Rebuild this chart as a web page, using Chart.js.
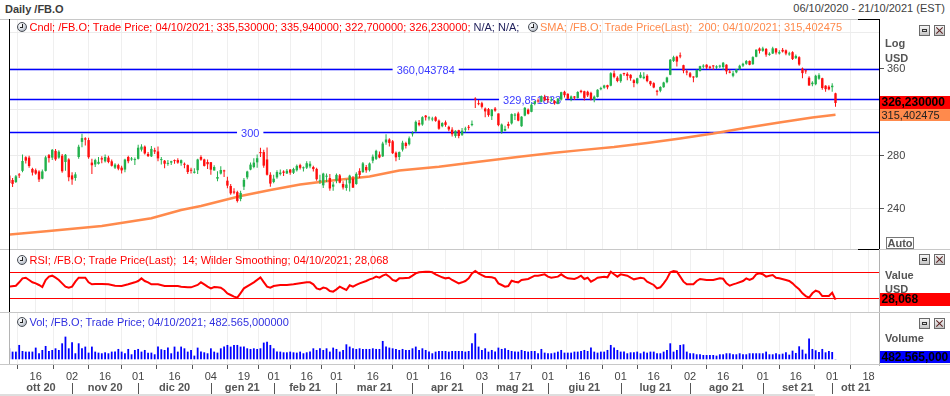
<!DOCTYPE html>
<html>
<head>
<meta charset="utf-8">
<title>Daily /FB.O</title>
<script src="https://cdn.jsdelivr.net/npm/chart.js@4.4.1/dist/chart.umd.min.js"></script>
<style>
  html, body { margin:0; padding:0; background:#fff; }
  body { width:950px; height:396px; position:relative; overflow:hidden;
         font-family:"Liberation Sans", Arial, sans-serif; font-size:11px; color:#444; }
  canvas { position:absolute; left:0; }
  .t { position:absolute; white-space:pre; line-height:13px; }
  .b { font-weight:bold; }
  .ico { position:absolute; width:8px; height:8px; border-radius:50%; border:1px solid #4a4f57;
         background:radial-gradient(circle at 35% 30%, #ffffff 0%, #d6dbe2 50%, #8d95a0 100%); }
  .ico:before { content:''; position:absolute; left:4px; top:1px; width:1px; height:4px; background:#222; }
  .ico:after { content:''; position:absolute; left:2px; top:4px; width:3px; height:1px; background:#222; }
  .btn { position:absolute; width:9px; height:9px; border:1px solid #6a6a6a; background:linear-gradient(#f6f6f6,#c4c4c4); }
  .btn.min:after { content:''; position:absolute; left:2px; top:3px; width:3px; height:1px; border:1px solid #333; }
  .btn.cls:before, .btn.cls:after { content:''; position:absolute; left:4px; top:0; width:1px; height:9px; background:#5a2020; transform:rotate(45deg); }
  .btn.cls:after { transform:rotate(-45deg); }
  .auto { position:absolute; left:886px; top:237px; width:26px; height:10px; border:1px solid #777;
          font-weight:bold; line-height:10px; text-align:center; color:#555; }
</style>
</head>
<body>
<canvas id="cMain" width="950" height="231" style="top:19px"></canvas>
<canvas id="cRsi" width="950" height="63" style="top:250px"></canvas>
<canvas id="cVol" width="950" height="83" style="top:313px"></canvas>
<script>
// ---------------- DATA ----------------
const SYMBOL = '/FB.O';
const LAST_DATE = '04/10/2021';
const DATE_RANGE = '06/10/2020 - 21/10/2021 (EST)';

// trading-day index 0 = 06/10/2020 ... 250 = 04/10/2021
const OPEN = [
264.4,261.0,259.5,264.8,268.0,278.8,278.5,269.5,268.5,267.5,
262.0,268.0,280.5,278.5,284.0,278.5,280.0,275.0,277.0,264.5,
262.5,279.0,291.5,294.5,293.0,274.5,273.0,273.5,278.0,275.5,
278.5,275.5,270.5,272.5,270.5,269.0,279.0,277.0,276.5,277.5,
285.0,287.5,281.5,279.5,284.5,283.5,276.5,276.0,273.5,274.5,
276.0,276.5,274.0,273.0,272.5,268.5,266.5,268.5,279.0,277.0,
275.0,274.8,268.3,262.0,265.9,268.3,260.5,256.5,252.5,252.0,
247.0,256.0,263.0,269.0,271.0,274.7,283.0,283.0,277.0,265.0,
259.5,263.0,265.5,267.5,266.0,269.0,266.5,268.5,272.5,270.0,
270.5,271.5,271.0,269.5,260.0,257.0,263.5,262.5,256.0,260.5,
264.5,258.0,255.0,258.5,262.0,258.0,268.0,267.0,271.0,268.5,
276.0,277.5,281.0,279.5,291.0,293.5,292.0,282.5,279.0,285.0,
290.5,289.5,298.0,300.5,308.0,306.5,314.5,312.0,311.0,313.0,
310.0,305.0,308.5,304.5,302.0,296.5,301.5,297.5,302.0,304.5,
306.0,330.0,326.0,326.0,321.0,320.5,314.0,321.0,316.5,300.0,
301.0,307.0,307.5,314.5,316.5,305.0,314.5,320.0,318.0,325.5,
328.0,327.5,332.0,330.0,328.5,328.0,325.5,329.5,337.0,335.0,
330.0,332.5,331.0,338.0,337.5,337.0,336.0,329.0,332.0,339.5,
341.0,343.5,343.0,355.5,351.0,347.5,355.5,355.0,354.0,348.5,
345.5,351.0,350.5,353.0,347.5,345.5,338.0,338.0,341.5,346.5,
354.0,368.5,373.0,374.5,364.0,357.5,355.5,352.0,351.5,358.0,
362.5,364.5,362.5,363.5,361.5,362.5,362.0,364.5,357.0,353.0,
356.5,360.0,363.5,365.5,368.5,365.0,373.0,382.0,379.5,381.5,
375.0,376.5,382.0,376.5,380.5,380.0,375.5,378.0,371.5,372.5,
360.5,358.5,351.0,344.5,344.5,350.0,350.5,343.0,342.0,341.5,
335.53];
const HIGH = [
266.0,262.5,264.8,266.3,281.0,279.5,280.0,270.5,269.8,268.5,
269.0,280.0,281.5,285.5,285.5,284.5,281.5,281.5,278.0,267.0,
267.0,289.0,298.5,295.5,295.0,277.5,277.5,279.0,279.5,281.0,
280.0,277.0,274.0,273.5,272.0,277.5,280.0,279.0,278.5,289.0,
289.5,288.5,283.0,288.0,286.5,287.5,279.0,276.5,276.5,276.0,
277.0,278.0,277.0,274.5,273.0,270.5,270.0,277.5,280.5,277.5,
277.0,275.0,272.4,267.8,271.6,268.8,263.5,258.0,254.8,253.0,
253.0,262.5,268.0,274.5,278.0,281.0,286.5,285.0,286.8,267.0,
265.0,268.5,269.0,268.5,269.5,269.5,270.5,273.0,273.5,271.5,
275.5,275.5,272.0,270.5,265.0,266.5,266.0,265.5,259.5,266.0,
265.5,260.0,261.5,265.0,264.0,267.0,270.0,275.0,272.5,274.5,
281.0,285.0,283.5,291.5,298.0,294.5,293.0,283.5,283.5,292.5,
291.5,296.0,300.5,310.0,310.5,314.0,315.0,314.0,313.5,314.0,
311.0,308.5,310.0,305.5,304.0,301.5,302.0,303.5,304.5,306.0,
310.0,331.8,329.0,327.5,322.0,321.5,320.5,322.5,316.5,307.5,
305.5,309.0,316.5,317.0,318.0,314.0,322.5,321.0,326.0,328.0,
330.5,333.5,334.0,333.0,332.0,329.0,331.0,337.0,338.0,335.5,
333.5,333.0,337.5,339.0,338.0,338.0,337.0,333.5,339.5,342.0,
344.0,344.0,356.5,358.5,352.5,355.0,356.0,356.5,354.5,349.5,
351.0,356.5,356.5,354.5,348.0,346.5,339.0,342.5,347.0,352.0,
370.5,374.0,374.0,377.5,364.5,359.5,357.0,352.5,359.5,363.5,
365.0,365.0,363.5,364.0,364.0,364.5,367.5,365.0,359.5,358.0,
360.0,364.5,366.5,369.5,369.0,373.5,381.0,383.0,384.0,382.5,
378.0,384.0,382.5,380.0,382.5,381.0,378.5,379.0,375.5,373.5,
361.5,359.5,352.5,347.5,354.0,355.5,351.0,343.5,343.5,345.5,
335.94];
const LOW = [
258.3,255.8,258.7,262.5,267.0,273.8,270.5,264.5,265.0,259.5,
261.5,267.5,274.5,276.5,276.0,277.5,266.5,268.0,260.0,257.5,
260.5,277.5,287.0,288.5,277.5,265.5,271.0,273.0,274.0,274.5,
274.0,271.5,269.5,268.5,266.0,267.0,274.0,276.0,272.5,277.0,
283.5,281.0,279.0,279.0,281.5,275.5,273.0,270.0,272.0,272.5,
273.5,273.5,272.0,270.0,265.5,266.0,266.0,265.5,276.0,271.5,
269.5,265.0,268.2,260.0,265.2,263.2,254.8,250.0,250.5,244.5,
245.5,253.5,261.5,268.5,270.0,270.5,279.0,270.5,264.5,256.0,
258.5,262.0,264.5,264.0,265.5,265.0,265.5,267.5,269.0,267.5,
269.5,270.0,267.5,260.5,258.0,255.0,259.5,253.0,253.0,258.5,
258.5,254.0,253.0,252.5,255.0,257.5,262.5,266.5,266.5,267.5,
274.0,276.5,278.0,279.0,289.0,287.5,281.5,275.5,276.5,283.5,
286.0,288.5,296.0,299.5,305.0,305.5,310.0,310.0,309.5,309.0,
302.0,304.0,304.5,300.5,296.0,295.0,294.5,296.5,299.5,301.5,
305.0,321.5,324.0,321.0,313.0,313.5,310.5,318.0,305.0,298.5,
300.5,303.0,306.5,310.5,309.5,304.5,314.0,315.5,317.5,324.0,
326.5,327.0,328.0,326.5,327.5,324.5,325.0,328.5,331.5,329.5,
328.0,329.0,330.5,335.5,328.5,332.0,328.5,327.0,331.5,338.5,
340.0,339.5,342.5,350.5,346.5,346.0,353.0,348.5,348.0,341.5,
344.5,350.5,349.5,346.5,343.0,340.5,333.5,336.5,341.0,345.5,
353.5,367.5,362.5,371.5,355.5,353.5,351.0,346.5,351.0,357.5,
360.5,360.0,359.5,359.0,360.0,361.0,359.0,354.5,355.5,351.5,
355.5,359.0,362.0,364.5,364.0,364.5,372.5,376.5,378.5,373.0,
374.0,376.0,375.5,375.5,377.5,374.5,374.0,369.5,370.5,363.5,
350.5,355.0,343.0,342.5,343.5,349.0,339.0,337.0,338.5,337.0,
322.70];
const CLOSE = [
258.7,258.1,263.8,264.5,275.8,276.1,271.8,266.7,265.9,261.4,
267.6,278.7,278.1,284.8,277.1,283.3,267.7,280.8,263.1,261.4,
265.3,287.4,294.7,293.4,278.8,272.4,276.5,275.1,277.0,279.0,
275.0,272.0,272.9,269.7,268.4,276.9,275.6,277.8,277.0,286.6,
287.5,281.9,279.7,285.6,283.4,277.9,277.1,273.6,274.2,275.6,
275.7,274.5,276.4,272.8,267.1,268.1,267.4,277.0,276.8,271.9,
273.2,268.9,271.0,263.3,268.7,267.6,256.8,251.1,251.6,245.6,
251.4,261.1,267.5,272.9,274.5,278.0,282.1,272.1,265.0,258.3,
262.0,267.1,266.7,266.5,268.1,266.6,269.5,271.9,270.4,270.5,
274.0,273.6,269.4,261.6,260.3,265.9,264.3,254.7,257.6,264.9,
259.0,255.4,257.6,264.3,255.3,265.7,264.9,273.9,268.4,273.8,
279.3,284.0,278.6,290.1,293.5,290.6,282.1,278.7,283.0,290.8,
288.0,294.5,298.7,308.9,306.3,313.1,313.0,312.5,311.5,309.8,
302.8,307.8,306.2,302.2,298.0,301.0,296.5,301.1,303.0,303.6,
307.1,329.5,325.1,322.6,318.4,315.0,320.0,319.1,306.0,306.5,
302.6,305.3,315.9,315.5,310.0,313.6,321.7,316.2,324.6,327.8,
327.7,332.8,328.7,329.1,329.2,326.0,330.4,336.6,333.7,330.3,
332.5,331.3,336.8,336.8,331.1,333.5,329.7,332.3,339.0,340.6,
343.2,341.4,355.6,351.9,347.7,354.4,354.7,352.8,350.5,345.7,
350.4,354.0,352.1,347.6,344.5,341.2,337.0,341.7,346.2,351.2,
369.8,372.5,367.8,373.3,358.3,356.3,352.0,351.2,358.9,363.0,
363.5,361.6,361.2,362.7,362.8,363.2,366.6,357.5,356.2,355.5,
359.4,363.4,365.5,368.4,364.4,372.6,380.7,379.4,382.1,375.3,
376.3,382.2,377.6,378.0,378.7,376.5,376.5,370.5,373.9,364.7,
355.7,357.5,343.2,346.0,353.0,353.6,340.7,339.6,339.4,343.0,
326.23];
// volume, millions of shares
const VOLUME = [
23.9,16.7,16.7,31.2,18.1,16.7,16.7,16.7,25.4,13.1,
20.3,29.0,18.1,20.3,23.9,20.3,34.8,49.3,23.9,37.0,
13.1,34.8,23.9,27.6,14.5,27.6,16.7,14.5,13.1,15.2,
13.1,16.7,16.7,22.5,16.7,13.1,22.5,10.9,20.3,22.5,
16.7,20.3,14.5,14.5,10.9,27.6,21.8,20.3,25.4,13.1,
27.6,16.7,27.6,23.9,16.7,20.3,8.0,25.4,16.7,15.2,
13.1,23.9,16.7,14.5,23.9,27.6,31.2,27.6,31.2,31.2,
27.6,27.6,23.9,22.5,23.9,22.5,23.9,36.3,38.4,31.2,
23.9,16.7,16.7,15.2,15.2,16.7,15.2,14.5,16.7,13.1,
15.2,16.7,23.9,20.3,23.9,20.3,23.9,16.7,25.4,22.5,
16.7,20.3,32.6,27.6,23.9,22.5,23.9,22.5,22.5,22.5,
23.9,22.5,22.5,39.9,27.6,25.4,23.9,22.5,20.3,22.5,
20.3,20.3,23.9,27.6,20.3,23.9,20.3,16.7,13.1,16.7,
18.1,18.1,18.1,16.7,18.1,18.1,18.1,18.1,16.7,18.1,
34.8,56.6,27.6,20.3,23.9,16.7,20.3,16.7,25.4,22.5,
23.9,20.3,18.1,16.7,16.7,20.3,18.1,16.7,18.1,18.1,
13.1,22.5,14.5,13.1,13.1,14.5,16.7,20.3,14.5,14.5,
14.5,16.7,16.7,18.1,20.3,18.1,25.4,16.7,14.5,16.7,
16.7,20.3,31.2,25.4,20.3,16.7,16.7,13.1,15.2,15.2,
16.7,13.1,16.7,14.5,16.7,16.7,13.1,13.1,16.7,20.3,
34.8,16.7,20.3,31.2,32.6,16.7,13.1,13.1,10.9,10.9,
9.4,9.4,9.4,9.4,8.0,10.9,10.9,13.1,13.1,10.9,
10.9,13.1,10.9,10.9,13.1,13.1,13.1,13.1,13.1,16.7,
10.9,10.9,13.1,10.9,12.3,15.2,10.1,18.8,13.8,28.3,
21.0,12.3,45.0,22.5,19.6,15.9,22.5,15.2,18.1,15.9,
0.482565];
// SMA(200) read at these trading-day indices
const SMA_DAY = [0,12,28,43,52,58,70,79,88,97,109,118,130,142,155,165,173,183,193,203,213,223,233,243,250];
const SMA_VAL = [222.8,225.2,228.5,233.6,239.3,242.1,249.2,253.6,257.7,260.5,263.6,268.2,271.3,275.2,279.3,282.5,284.6,287.2,290.6,294.4,298.6,303.6,308.4,312.8,315.402475];
// RSI(14) read at these trading-day indices
const RSI_DAY = [0,2,3,4,5,6,7,8,9,10,
11,12,13,14,15,16,17,18,19,20,
21,22,23,24,25,26,28,30,32,34,
36,38,39,40,41,42,43,45,47,49,
51,52,54,55,57,58,59,60,61,62,
63,64,65,66,67,68,69,70,71,73,
74,76,77,78,79,80,82,84,86,88,
90,91,92,93,94,95,96,97,98,99,
100,101,102,103,104,105,106,108,109,110,
111,112,113,114,115,116,117,118,119,121,
122,123,124,126,127,128,129,131,132,133,
134,136,137,138,139,140,141,142,143,144,
146,147,148,149,150,151,152,153,154,155,
157,159,160,162,163,164,166,167,168,169,
171,172,173,174,175,176,177,178,180,181,
182,183,184,185,187,188,189,191,192,193,
195,196,197,198,199,200,201,202,203,204,
205,207,208,209,211,213,215,216,217,218,
219,220,222,223,224,225,226,227,228,229,
230,231,232,233,235,236,237,238,239,240,
241,242,243,244,245,246,247,248,249,250];
const RSI_VAL = [47.9,49.4,54.6,60.7,61.7,58.2,54.6,53.0,50.5,47.4,
58.0,63.3,64.8,61.7,58.2,53.0,47.9,46.4,47.9,55.6,
61.7,61.7,61.7,54.6,51.5,52.0,52.0,51.5,49.4,48.9,
51.5,54.6,56.6,60.7,56.6,54.6,51.5,51.5,48.9,48.9,
48.9,47.9,46.9,46.9,50.5,54.6,51.5,47.9,45.3,47.4,
46.9,46.4,42.8,37.6,35.1,32.5,31.0,38.0,45.3,51.5,
54.6,62.0,55.0,47.9,46.4,48.9,50.5,50.5,51.5,53.0,
54.6,54.6,51.5,45.3,43.8,46.4,45.3,41.2,40.2,43.8,
47.9,45.3,42.8,50.0,47.9,50.5,53.0,56.6,59.2,60.7,
63.3,61.7,64.8,66.9,63.3,58.2,56.6,60.7,60.7,61.7,
64.8,68.4,70.0,71.0,71.0,70.0,66.9,62.3,60.7,61.7,
58.2,53.0,54.6,56.6,60.7,68.4,72.0,68.4,65.8,63.3,
62.3,60.7,53.0,50.5,47.9,48.9,57.1,55.6,54.6,58.2,
59.7,64.8,64.8,66.9,63.3,61.7,63.3,66.9,63.3,60.7,
59.7,61.7,64.8,59.7,61.7,55.6,58.2,61.7,63.3,62.3,
71.0,66.9,63.3,66.9,64.8,61.7,59.2,61.7,60.7,55.6,
50.5,45.3,46.9,53.0,60.0,70.0,72.0,71.0,63.3,55.6,
51.5,51.5,56.6,59.7,58.2,58.2,60.7,60.0,53.0,49.4,
51.5,53.0,56.6,60.7,58.2,60.7,66.9,68.4,67.0,63.3,
64.8,65.8,61.7,60.8,58.2,56.6,53.0,48.0,43.8,37.7,
33.5,31.0,37.7,41.7,40.0,33.5,33.5,33.5,38.6,28.068];
const RSI_LEVELS = [70, 30];
// user-drawn horizontal lines
const HLINE_VAL = [360.043784, 329.851833, 300];
const HLINE_LABEL_DAY = [126, 158.2, 72.9];
// axis ticks
const Y_TICKS = [240, 280, 320, 360, 400];
const Y_TICK_LABELS = ['240', '280', '', '360', ''];
const TICK_DAYS = [8,19,29,39,50,61,71,80,90,99,110,122,132,143,153,163,174,185,195,206,216,228,238,249,260];
const TICK_LABELS = ['16','02','16','01','16','04','19','01','16','01','16','01','16','03','17','01','16','01','16','02','16','01','16','01','18'];
const MONTH_STARTS = [19,39,61,80,99,122,143,163,185,206,228,249];
const MONTH_NAMES = ['ott 20','nov 20','dic 20','gen 21','feb 21','mar 21','apr 21','mag 21','giu 21','lug 21','ago 21','set 21','ott 21'];

// ---------------- SETUP ----------------
const FONT = '"Liberation Sans", Arial, sans-serif';
Chart.defaults.font.family = FONT;
Chart.defaults.font.size = 11;
Chart.defaults.color = '#444';
const X_MIN = 0.22, X_MAX = 263.16;
const N = CLOSE.length - 1;
const GREEN = '#22b14c', RED = '#ff0d0d';
const candleColors = CLOSE.map((c, i) => c >= OPEN[i] ? GREEN : RED);

function itNum(v, d) {
  const s = v.toFixed(d); let [a, b] = s.split('.');
  a = a.replace(/\B(?=(\d{3})+(?!\d))/g, '.');
  return b ? a + ',' + b : a;
}
function zeroPad(s) { s.paddingTop = 0; s.paddingBottom = 0; s.paddingLeft = 0; s.paddingRight = 0; }
function xScale(show) {
  return {
    type: 'linear', min: X_MIN, max: X_MAX, offset: false,
    afterBuildTicks(s) { s.ticks = TICK_DAYS.map(v => ({ value: v })); },
    afterFit(s) { s.height = show ? 31 : 0; zeroPad(s); },
    grid: { color: '#efefef', lineWidth: 1, drawTicks: show, tickLength: 4, tickColor: '#555' },
    border: { display: false },
    ticks: { display: show, autoSkip: false, maxRotation: 0, minRotation: 0, padding: 1,
             color: '#444', font: { family: FONT, size: 11 }, callback: (v, i) => TICK_LABELS[i] }
  };
}
function plainY(min, max, borderColor) {
  return {
    type: 'linear', position: 'right', min, max,
    afterFit(s) { s.width = 71; zeroPad(s); },
    grid: { display: false, drawTicks: false },
    border: { display: true, color: borderColor, width: 1 },
    ticks: { display: false }
  };
}
function flag(ctx, l, r, cy, h, bg, txt, font, col) {
  const top = Math.round(cy - h / 2);
  ctx.fillStyle = bg; ctx.fillRect(l, top, r - l, h);
  ctx.fillStyle = col; ctx.font = font; ctx.textAlign = 'left'; ctx.textBaseline = 'middle';
  ctx.fillText(txt, l + 1.5, top + h / 2 + 0.5);
}
const common = {
  responsive: false, animation: false, devicePixelRatio: 1, events: [],
  layout: { padding: { left: 10, right: 0, top: 0, bottom: 0 } },
  plugins: { legend: { display: false }, tooltip: { enabled: false } }
};

// ---------------- MAIN PANEL ----------------
const mainDeco = {
  id: 'mainDeco',
  beforeDatasetsDraw(chart) {
    const { ctx, chartArea: a } = chart, x = chart.scales.x, y = chart.scales.y;
    ctx.save();
    ctx.beginPath(); ctx.rect(a.left, a.top, a.right - a.left, a.bottom - a.top); ctx.clip();
    ctx.font = '11px ' + FONT; ctx.textAlign = 'center'; ctx.textBaseline = 'middle';
    HLINE_VAL.forEach((v, k) => {
      const py = Math.round(y.getPixelForValue(v)) + 0.5;
      ctx.strokeStyle = '#0000ff'; ctx.lineWidth = 1.5;
      ctx.beginPath(); ctx.moveTo(a.left, py); ctx.lineTo(a.right, py); ctx.stroke();
      const txt = Number.isInteger(v) ? String(v) : itNum(v, 6);
      const w = ctx.measureText(txt).width, cx = x.getPixelForValue(HLINE_LABEL_DAY[k]);
      ctx.fillStyle = '#ffffff'; ctx.fillRect(cx - w / 2 - 4, py - 6, w + 8, 12);
      ctx.fillStyle = '#3a3aff'; ctx.fillText(txt, cx, py + 1);
    });
    ctx.restore();
  },
  afterDraw(chart) {
    const { ctx, chartArea: a } = chart, y = chart.scales.y;
    ctx.save();
    ctx.fillStyle = '#c8c8c8'; ctx.fillRect(0, 0, a.right, 1); ctx.fillRect(0, chart.height - 1, chart.width, 1);
    ctx.fillStyle = '#000'; ctx.fillRect(a.left - 1, 0, 1, a.bottom);
    ctx.fillRect(858, 0, 21, 1); ctx.fillRect(858, chart.height - 1, 21, 1);
    flag(ctx, a.right + 1, chart.width, y.getPixelForValue(SMA_VAL[SMA_VAL.length - 1]), 12, '#ff8a4c',
         itNum(SMA_VAL[SMA_VAL.length - 1], 6), '11px ' + FONT, '#222');
    flag(ctx, a.right + 1, chart.width, y.getPixelForValue(CLOSE[N]), 13, '#ff0000',
         itNum(CLOSE[N], 6), 'bold 12px ' + FONT, '#000');
    ctx.restore();
  }
};
new Chart(document.getElementById('cMain'), {
  type: 'bar',
  data: {
    datasets: [
      { type: 'bar', label: 'body', order: 1, grouped: false, barThickness: 2.4, minBarLength: 1, inflateAmount: 0,
        data: CLOSE.map((c, i) => ({ x: i, y: [OPEN[i], c] })), backgroundColor: candleColors, borderWidth: 0 },
      { type: 'bar', label: 'wick', order: 2, grouped: false, barThickness: 1, inflateAmount: 0,
        data: CLOSE.map((c, i) => ({ x: i, y: [LOW[i], HIGH[i]] })), backgroundColor: candleColors, borderWidth: 0 },
      { type: 'line', label: 'SMA', order: 3, data: SMA_DAY.map((d, k) => ({ x: d, y: SMA_VAL[k] })),
        borderColor: '#ff8a4c', borderWidth: 2.5, pointRadius: 0, tension: 0, fill: false }
    ]
  },
  options: Object.assign({}, common, {
    scales: {
      x: xScale(false),
      y: {
        type: 'logarithmic', position: 'right', min: 213.1, max: 416.1,
        afterBuildTicks(s) { s.ticks = Y_TICKS.map(v => ({ value: v })); },
        afterFit(s) { s.width = 71; zeroPad(s); },
        grid: { color: '#ececec', tickLength: 5,
                tickColor: c => (Y_TICK_LABELS[c.index] ? '#555' : 'rgba(0,0,0,0)') },
        border: { display: true, color: '#000', width: 1 },
        ticks: { autoSkip: false, padding: 3, color: '#444', font: { family: FONT, size: 11 },
                 callback: (v, i) => Y_TICK_LABELS[i] }
      }
    }
  }),
  plugins: [mainDeco]
});

// ---------------- RSI PANEL ----------------
const rsiDeco = {
  id: 'rsiDeco',
  beforeDatasetsDraw(chart) {
    const { ctx, chartArea: a } = chart, y = chart.scales.y;
    ctx.save(); ctx.fillStyle = '#ff0000';
    RSI_LEVELS.forEach(v => { ctx.fillRect(a.left, Math.round(y.getPixelForValue(v)), a.right - a.left, 1); });
    ctx.restore();
  },
  afterDraw(chart) {
    const { ctx, chartArea: a } = chart, y = chart.scales.y;
    ctx.save();
    ctx.fillStyle = '#000'; ctx.fillRect(a.left - 1, 0, 1, a.bottom);
    ctx.fillStyle = '#c8c8c8'; ctx.fillRect(0, chart.height - 1, chart.width, 1);
    const last = RSI_VAL[RSI_VAL.length - 1];
    flag(ctx, a.right + 1, chart.width, y.getPixelForValue(last), 13, '#ff0000', itNum(last, 3), 'bold 12px ' + FONT, '#000');
    ctx.restore();
  }
};
new Chart(document.getElementById('cRsi'), {
  type: 'line',
  data: { datasets: [{ label: 'RSI', data: RSI_DAY.map((d, k) => ({ x: d, y: RSI_VAL[k] })),
                       borderColor: '#ff0000', borderWidth: 2, pointRadius: 0, tension: 0, fill: false }] },
  options: Object.assign({}, common, { scales: { x: xScale(false), y: plainY(7.4, 104.3, '#b0b0b0') } }),
  plugins: [rsiDeco]
});

// ---------------- VOLUME PANEL + TIME AXIS ----------------
const volDeco = {
  id: 'volDeco',
  afterDraw(chart) {
    const { ctx, chartArea: a } = chart, x = chart.scales.x, y = chart.scales.y;
    ctx.save();
    ctx.fillStyle = '#b4b4b4'; ctx.fillRect(a.left - 1, 0, 1, a.bottom);
    ctx.fillStyle = '#c8c8c8'; ctx.fillRect(0, a.bottom - 1, chart.width, 1);
    const lastV = VOLUME[N];
    const py = Math.min(y.getPixelForValue(lastV), a.bottom - 8);
    flag(ctx, a.right + 1, chart.width, py, 12, '#0000ff', itNum(lastV * 1e6, 3), 'bold 12px ' + FONT, '#000');
    ctx.fillStyle = '#555';
    MONTH_STARTS.forEach(d => { ctx.fillRect(Math.round(x.getPixelForValue(d)), 70, 1, 11); });
    ctx.font = 'bold 11px ' + FONT; ctx.textAlign = 'center'; ctx.textBaseline = 'middle';
    const bounds = [X_MIN].concat(MONTH_STARTS, [X_MAX]);
    MONTH_NAMES.forEach((n, k) => {
      const l = x.getPixelForValue(bounds[k]), r = x.getPixelForValue(bounds[k + 1]);
      ctx.fillText(n, (l + r) / 2, 75);
    });
    ctx.fillStyle = '#dedede'; ctx.fillRect(0, 81, 815, 2);
    ctx.restore();
  }
};
new Chart(document.getElementById('cVol'), {
  type: 'bar',
  data: { datasets: [{ label: 'Vol', data: VOLUME.map((v, i) => ({ x: i, y: v })), backgroundColor: '#0000ff',
                       barThickness: 1.8, inflateAmount: 0, borderWidth: 0 }] },
  options: Object.assign({}, common, { scales: { x: xScale(true), y: plainY(-12.4, 100.7, '#b0b0b0') } }),
  plugins: [volDeco]
});

// ---------------- TEXT OVERLAYS ----------------
function el(cls, left, top, txt, style) {
  const d = document.createElement('div'); d.className = cls;
  if (txt != null) d.textContent = txt;
  d.style.left = left + 'px'; d.style.top = top + 'px';
  if (style) Object.assign(d.style, style);
  document.body.appendChild(d); return d;
}
el('t b', 5, 2.5, 'Daily ' + SYMBOL, { color: '#3c3c3c' });
const dr = el('t', 0, 2, DATE_RANGE, { color: '#404040' }); dr.style.left = 'auto'; dr.style.right = '5px';

el('ico', 17, 22);
const lg = el('t', 29.5, 20.5, null);
const s1 = document.createElement('span'); s1.style.color = '#ff0000';
s1.textContent = 'Cndl; ' + SYMBOL + '; Trade Price; ' + LAST_DATE + '; ' + itNum(OPEN[N], 6) + '; ' +
  itNum(HIGH[N], 6) + '; ' + itNum(LOW[N], 6) + '; ' + itNum(CLOSE[N], 6) + '; ';
const s2 = document.createElement('span'); s2.style.color = '#1e1e5a'; s2.textContent = 'N/A; N/A;';
lg.appendChild(s1); lg.appendChild(s2);
el('ico', 528, 22);
el('t', 540, 20.5, 'SMA; ' + SYMBOL + '; Trade Price(Last);  200; ' + LAST_DATE + '; ' + itNum(SMA_VAL[SMA_VAL.length - 1], 6), { color: '#ff8a4c' });

el('ico', 17, 255);
el('t', 29.5, 253.5, 'RSI; ' + SYMBOL + '; Trade Price(Last);  14; Wilder Smoothing; ' + LAST_DATE + '; ' + itNum(RSI_VAL[RSI_VAL.length - 1], 3), { color: '#ff0000' });
el('ico', 17, 317);
el('t', 29.5, 316, 'Vol; ' + SYMBOL + '; Trade Price; ' + LAST_DATE + '; ' + itNum(VOLUME[N] * 1e6, 6), { color: '#3030e0' });

el('t b', 885, 36.5, 'Log', { color: '#555' });
el('t b', 885, 51.5, 'USD', { color: '#555' });
el('auto', 886, 237, 'Auto');
el('t b', 885, 268.5, 'Value', { color: '#555' });
el('t b', 885, 282.5, 'USD', { color: '#555' });
el('t b', 885, 331.5, 'Volume', { color: '#555' });

[[25], [254], [318]].forEach(([top]) => { el('btn min', 919, top); el('btn cls', 934, top); });
</script>
</body>
</html>
